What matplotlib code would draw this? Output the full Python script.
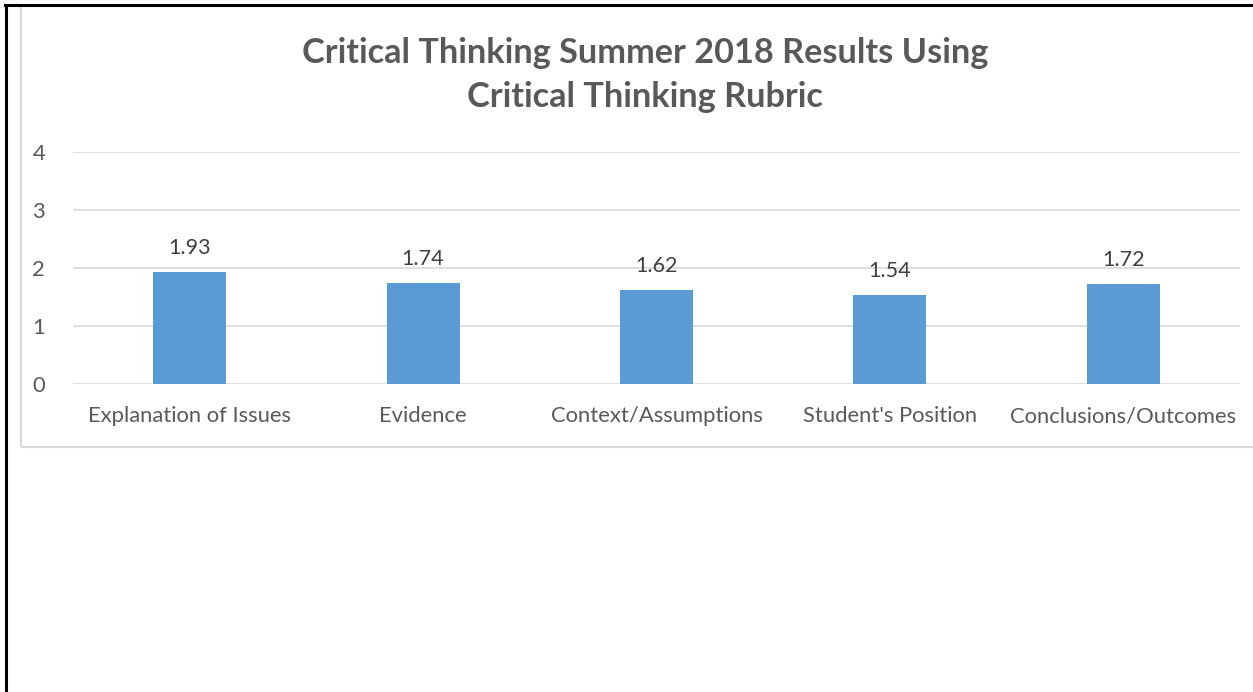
import matplotlib
matplotlib.use("Agg")
import matplotlib.pyplot as plt
from matplotlib.lines import Line2D
from matplotlib.patches import Rectangle

categories = ["Explanation of Issues", "Evidence", "Context/Assumptions",
              "Student's Position", "Conclusions/Outcomes"]
values = [1.93, 1.74, 1.62, 1.54, 1.72]
yticks = [0, 1, 2, 3, 4]
title = "Critical Thinking Summer 2018 Results Using\nCritical Thinking Rubric"

W, H = 1253, 692
plt.rcParams['font.family'] = ['Lato', 'DejaVu Sans']
fig = plt.figure(figsize=(W / 100, H / 100), dpi=100)
fig.patch.set_facecolor('white')

def fx(px):
    return px / W

def fy(py):
    return 1 - py / H

# chart area border
fig.patches.append(Rectangle((fx(21), fy(447)), fx(1260) - fx(21), fy(6) - fy(447),
                             transform=fig.transFigure, fill=False,
                             edgecolor='#D9D9D9', linewidth=1.5))
# page black border
fig.lines.append(Line2D([fx(6), fx(6)], [0, fy(5)], transform=fig.transFigure,
                        color='black', linewidth=2.2))
fig.lines.append(Line2D([fx(5), 1], [fy(5), fy(5)], transform=fig.transFigure,
                        color='black', linewidth=2.2))

ax = fig.add_axes([fx(73), fy(384), fx(1240) - fx(73), fy(152) - fy(384)])
x = list(range(len(categories)))
bars = ax.bar(x, values, width=0.313, color='#5B9BD5', zorder=3)
ax.set_xlim(-0.5, len(categories) - 0.5)
ax.set_ylim(0, 4)
ax.set_yticks(yticks)
ax.set_yticklabels([str(t) for t in yticks])
ax.set_xticks(x)
ax.set_xticklabels(categories)
ax.grid(axis='y', color='#D9D9D9', linewidth=1.2, zorder=0)
for s in ax.spines.values():
    s.set_visible(False)
ax.tick_params(axis='both', length=0, colors='#595959', labelsize=15.8)
ax.tick_params(axis='y', pad=20)
ax.tick_params(axis='x', pad=16)
for lbl in ax.get_xticklabels() + ax.get_yticklabels():
    lbl.set_color('#595959')

for xi, v in zip(x, values):
    ax.annotate(f"{v:.2f}", (xi, v), xytext=(0, 10), textcoords='offset points',
                ha='center', va='bottom', fontsize=15.5, color='#404040')

fig.text(fx(645), fy(75), title, ha='center', va='center', fontsize=24.7,
         fontweight='bold', color='#595959', linespacing=1.48)

fig.savefig('out.png', dpi=100, facecolor='white')
